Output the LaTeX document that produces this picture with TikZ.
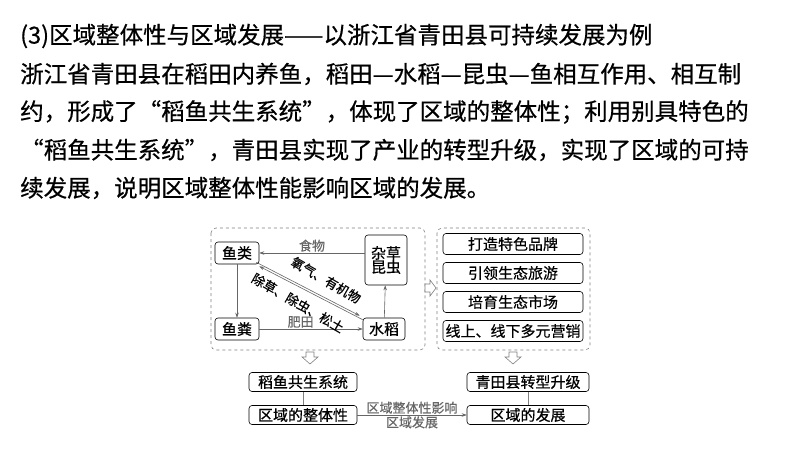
\documentclass[tikz,border=0pt]{standalone}
\usepackage{fontspec}
\setmainfont{Noto Sans CJK SC}[FakeBold=0.5]
\usetikzlibrary{arrows.meta}
\begin{document}
\begin{tikzpicture}[x=1pt,y=-1pt,
  txt/.style={anchor=west,inner sep=0pt,font=\fontsize{23.5}{23}\selectfont},
  bx/.style={draw,rounded corners=3pt,inner sep=1pt,font=\fontsize{15}{16}\selectfont,align=center,line width=0.6pt},
  rbx/.style={bx,minimum width=140pt,minimum height=21pt},
  gbox/.style={draw,dashed,gray,rounded corners=5pt,line width=0.6pt},
  ar/.style={-{Stealth[length=5pt,width=3.5pt]},gray!80!black,line width=0.6pt},
  lab/.style={font=\fontsize{13}{14}\selectfont,inner sep=1pt},
  hol/.style={draw,gray,fill=white,line width=0.6pt}]
\useasboundingbox (0,0) rectangle (800,450);
\node[txt] (l1) at (20,36) {(3)区域整体性与区域发展——以浙江省青田县可持续发展为例};
\node[txt] (l2) at (20,74) {浙江省青田县在稻田内养鱼，稻田—水稻—昆虫—鱼相互作用、相互制};
\node[txt] (l3) at (20,112) {约，形成了“稻鱼共生系统”，体现了区域的整体性；利用别具特色的};
\node[txt] (l4) at (20,150) {“稻鱼共生系统”，青田县实现了产业的转型升级，实现了区域的可持};
\node[txt] (l5) at (20,188) {续发展，说明区域整体性能影响区域的发展。};
% left box
\draw[gbox] (211,228) rectangle (425,350);
\node[bx,minimum width=44pt,minimum height=22pt] (yl) at (237,253) {鱼类};
\node[bx,minimum width=42pt,minimum height=50pt] (zc) at (386,260) {杂草\\[-2pt]昆虫};
\node[bx,minimum width=44pt,minimum height=22pt] (yf) at (237,329) {鱼粪};
\node[bx,minimum width=42pt,minimum height=22pt] (sd) at (384,329) {水稻};
\draw[ar] (zc.west|-yl) -- node[lab,above] {食物} (yl.east);
\draw[ar] (yl) -- (yf);
\draw[ar] (yf) -- node[lab,above,pos=0.4] {肥田} (sd);
\draw[ar] (sd) -- (zc);
\draw[ar] ([yshift=-2pt]sd.north west) -- ([yshift=-2pt]yl.south east);
\draw[ar] ([xshift=-3pt,yshift=2pt]yl.south east) -- ([xshift=-3pt,yshift=2pt]sd.north west);
\begin{scope}[y=1pt]
\node[lab,rotate=-30] (o1) at (326,-280) {氧气、有机物};
\node[lab,rotate=-30] (o2) at (298,-303) {除草、除虫、松土};
\end{scope}
% right box
\draw[gbox] (437,228) rectangle (590,350);
\node[rbx] (r1) at (513,244) {打造特色品牌};
\node[rbx] (r2) at (513,273) {引领生态旅游};
\node[rbx] (r3) at (513,302) {培育生态市场};
\node[rbx] (r4) at (513,331) {线上、线下多元营销};
% hollow arrows
\draw[hol] (425,284)--(430,284)--(430,280)--(436,288)--(430,296)--(430,292)--(425,292)--cycle;
\draw[hol] (306,352)--(314,352)--(314,357)--(318,357)--(310,364)--(302,357)--(306,357)--cycle;
\draw[hol] (509,352)--(517,352)--(517,357)--(521,357)--(513,364)--(505,357)--(509,357)--cycle;
% bottom
\node[bx,minimum width=108pt,minimum height=19pt] (b1) at (303,382) {稻鱼共生系统};
\node[bx,minimum width=108pt,minimum height=19pt] (b2) at (303,415) {区域的整体性};
\node[bx,minimum width=122pt,minimum height=19pt] (b3) at (528,382) {青田县转型升级};
\node[bx,minimum width=122pt,minimum height=19pt] (b4) at (528,415) {区域的发展};
\draw[gray,line width=0.6pt] (b1) -- (b2);
\draw[gray,line width=0.6pt] (b3) -- (b4);
\draw[ar] (b2) -- node[lab,above] {区域整体性影响} node[lab,below] {区域发展} (b4);
\end{tikzpicture}
\end{document}
